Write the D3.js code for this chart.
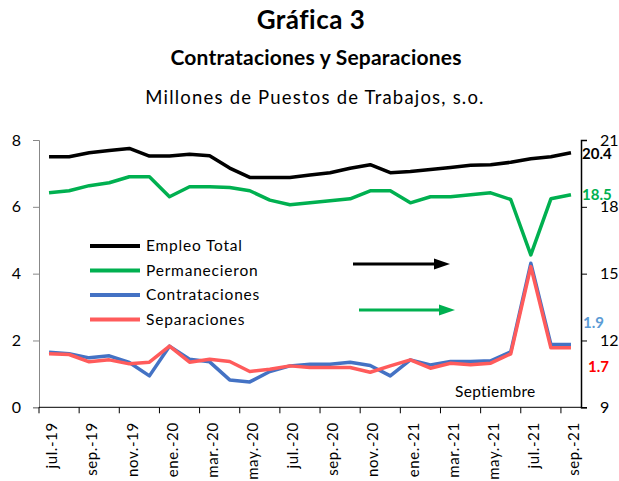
<!DOCTYPE html>
<html>
<head>
<meta charset="utf-8">
<script src="https://cdn.jsdelivr.net/npm/d3@7"></script>
<style>
  body { margin: 0; background: #fff; }
  text { font-family: Lato, "Open Sans", sans-serif; }
</style>
</head>
<body>
<div id="chart"></div>
<script>
// months, jul-2019 .. sep-2021
const months = ["jul.-19","ago.-19","sep.-19","oct.-19","nov.-19","dic.-19","ene.-20","feb.-20","mar.-20","abr.-20","may.-20","jun.-20",
  "jul.-20","ago.-20","sep.-20","oct.-20","nov.-20","dic.-20","ene.-21","feb.-21","mar.-21","abr.-21","may.-21","jun.-21","jul.-21","ago.-21","sep.-21"];

// right axis (millones)
const empleoTotal = [20.25,20.25,20.43,20.53,20.62,20.28,20.28,20.36,20.29,19.74,19.32,19.32,19.32,19.43,19.53,19.73,19.89,19.53,19.59,19.68,19.77,19.87,19.89,20.0,20.16,20.25,20.43];
const permanecieron = [18.63,18.72,18.95,19.08,19.35,19.35,18.45,18.9,18.9,18.87,18.72,18.3,18.09,18.18,18.27,18.36,18.72,18.72,18.18,18.45,18.45,18.54,18.63,18.33,15.84,18.36,18.54];
// left axis (millones)
const contrataciones = [1.65,1.6,1.48,1.54,1.34,0.94,1.83,1.44,1.36,0.82,0.76,1.07,1.24,1.29,1.29,1.35,1.25,0.94,1.42,1.27,1.37,1.37,1.39,1.66,4.31,1.88,1.88];
const separaciones = [1.6,1.58,1.36,1.42,1.3,1.35,1.83,1.35,1.44,1.37,1.07,1.14,1.24,1.19,1.19,1.19,1.05,1.24,1.42,1.17,1.32,1.27,1.32,1.6,4.21,1.78,1.78];

const leftTicks = [0,2,4,6,8];
const rightTicks = [9,12,15,18,21];

const W = 619, H = 481;
const pLeft = 39, pRight = 581, pTop = 140, pBottom = 407.3;

const svg = d3.select('#chart').append('svg')
    .attr('width', W).attr('height', H);

const x = d3.scaleBand().domain(months).range([pLeft, pRight]).padding(0);
const cx = d => x(d) + x.bandwidth() / 2;
const yL = d3.scaleLinear().domain([0, 8]).range([pBottom, pTop]);
const yR = d3.scaleLinear().domain([9, 21]).range([pBottom, pTop]);

// titles
svg.append('text').attr('x', 311).attr('y', 29).attr('text-anchor', 'middle')
    .style('font-size', '26px').style('font-weight', 'bold').style('letter-spacing', '0.5px').text('Gráfica 3');
svg.append('text').attr('x', 316).attr('y', 65).attr('text-anchor', 'middle')
    .style('font-size', '21px').style('font-weight', 'bold').style('letter-spacing', '0.2px').text('Contrataciones y Separaciones');
svg.append('text').attr('x', 315).attr('y', 104).attr('text-anchor', 'middle')
    .style('font-size', '18.5px').style('letter-spacing', '1.2px').text('Millones de Puestos de Trabajos, s.o.');

// left axis
const gl = svg.append('g').attr('transform', `translate(${pLeft},0)`)
    .call(d3.axisLeft(yL).tickValues(leftTicks).tickSize(6).tickPadding(12).tickFormat(d3.format('d')));
gl.select('.domain').attr('stroke', '#888');
gl.selectAll('.tick line').attr('stroke', '#888');
gl.selectAll('text').style('font-size', '16px').attr('fill', '#000');

// right axis
const gr = svg.append('g').attr('transform', `translate(${pRight},0)`)
    .call(d3.axisRight(yR).tickValues(rightTicks).tickSize(6).tickPadding(13).tickFormat(d3.format('d')));
gr.select('.domain').attr('stroke', '#000').attr('stroke-width', 1.5);
gr.selectAll('text').style('font-size', '16px').attr('fill', '#000');

// x axis
const gx = svg.append('g');
gx.append('line').attr('x1', pLeft).attr('x2', pRight).attr('y1', pBottom).attr('y2', pBottom)
    .attr('stroke', '#000');
const tickMonths = months.filter((d, i) => i % 2 === 0);
gx.selectAll('.xt').data(tickMonths).enter().append('line')
    .attr('x1', d => x(d)).attr('x2', d => x(d))
    .attr('y1', pBottom).attr('y2', pBottom + 6).attr('stroke', '#000');
gx.selectAll('.xl').data(tickMonths).enter().append('text')
    .attr('transform', d => `translate(${cx(d) + 3},${pBottom + 15}) rotate(-90)`)
    .attr('text-anchor', 'end').attr('dy', '0.35em')
    .style('font-size', '15px').style('letter-spacing', '0.6px')
    .text(d => d);

// lines
const lineL = d3.line().x((d, i) => cx(months[i])).y(d => yL(d));
const lineR = d3.line().x((d, i) => cx(months[i])).y(d => yR(d));

const series = [
  { name: 'Contrataciones', data: contrataciones, line: lineL, color: '#4472C4' },
  { name: 'Separaciones', data: separaciones, line: lineL, color: '#FF5B5B' },
  { name: 'Permanecieron', data: permanecieron, line: lineR, color: '#00B050' },
  { name: 'Empleo Total', data: empleoTotal, line: lineR, color: '#000' }
];
series.forEach(s => {
  svg.append('path').datum(s.data)
    .attr('d', s.line).attr('fill', 'none')
    .attr('stroke', s.color).attr('stroke-width', 3.5).attr('stroke-linejoin', 'round');
});

// legend
const legendOrder = ['Empleo Total', 'Permanecieron', 'Contrataciones', 'Separaciones'];
legendOrder.forEach((name, i) => {
  const s = series.find(d => d.name === name);
  const ly = 246 + i * 24.5;
  svg.append('line').attr('x1', 90).attr('x2', 140).attr('y1', ly).attr('y2', ly)
    .attr('stroke', s.color).attr('stroke-width', 4);
  svg.append('text').attr('x', 146).attr('y', ly).attr('dy', '0.35em')
    .style('font-size', '15.5px').style('letter-spacing', '0.8px').text(name);
});

// arrows
function arrow(x1, x2, yv, color) {
  svg.append('line').attr('x1', x1).attr('x2', x2 - 14).attr('y1', yv).attr('y2', yv)
    .attr('stroke', color).attr('stroke-width', 3);
  svg.append('path').attr('d', `M${x2 - 16},${yv - 5.5}L${x2},${yv}L${x2 - 16},${yv + 5.5}Z`).attr('fill', color);
}
arrow(353, 450, 264, '#000');
arrow(359, 455, 310, '#00B050');

// end labels
const last = months.length - 1;
svg.append('text').attr('x', 582).attr('y', yR(empleoTotal[last]) + 1).attr('dy', '0.35em')
  .style('font-size', '15px').style('font-weight', 'bold').attr('fill', '#000').text('20.4');
svg.append('text').attr('x', 582).attr('y', yR(permanecieron[last])).attr('dy', '0.35em')
  .style('font-size', '15px').style('font-weight', 'bold').attr('fill', '#00B050').text('18.5');
svg.append('text').attr('x', 583).attr('y', 323).attr('dy', '0.35em')
  .style('font-size', '15px').style('font-weight', 'bold').attr('fill', '#5B9BD5').text('1.9');
svg.append('text').attr('x', 588).attr('y', 367).attr('dy', '0.35em')
  .style('font-size', '15px').style('font-weight', 'bold').attr('fill', '#FF0000').text('1.7');

svg.append('text').attr('x', 455).attr('y', 392).attr('dy', '0.35em')
  .style('font-size', '15.5px').style('letter-spacing', '0.3px').text('Septiembre');
</script>
</body>
</html>
